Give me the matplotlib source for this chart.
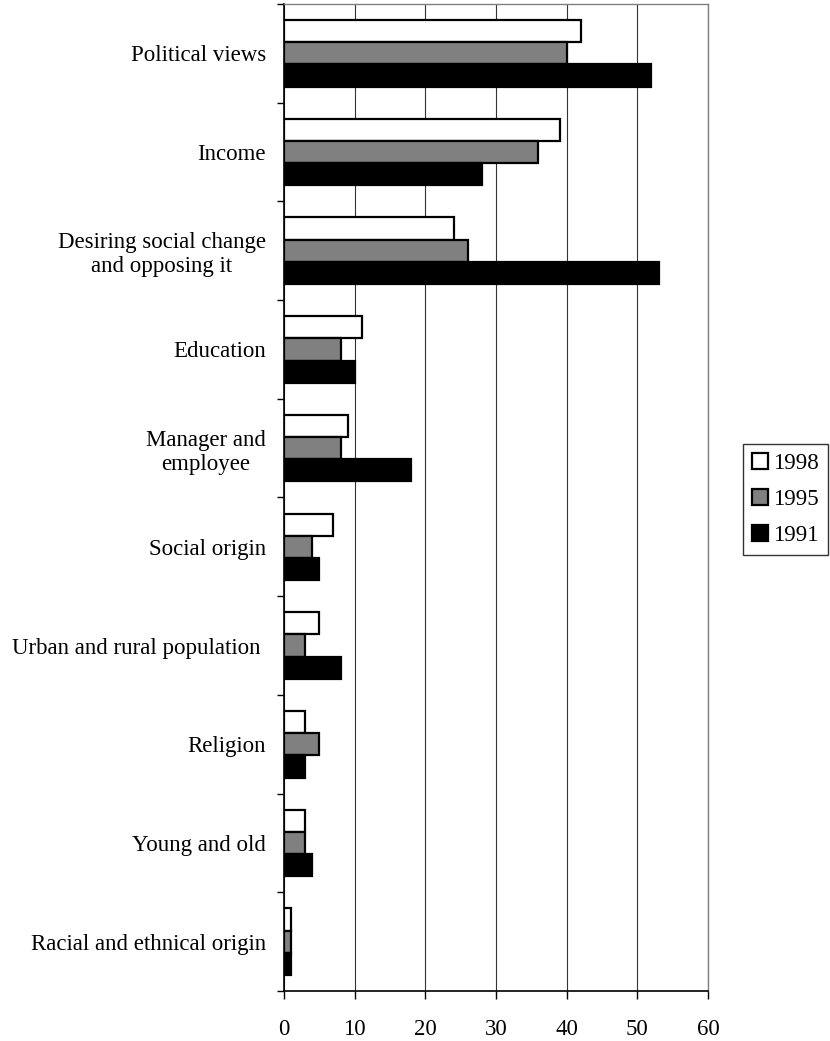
import matplotlib
matplotlib.use("Agg")
import matplotlib.pyplot as plt
import numpy as np

categories = ["Political views", "Income", "Desiring social change\nand opposing it",
              "Education", "Manager and\nemployee", "Social origin",
              "Urban and rural population ", "Religion", "Young and old",
              "Racial and ethnical origin"]
v1998 = [42, 39, 24, 11, 9, 7, 5, 3, 3, 1]
v1995 = [40, 36, 26, 8, 8, 4, 3, 5, 3, 1]
v1991 = [52, 28, 53, 10, 18, 5, 8, 3, 4, 1]
series_labels = ["1998", "1995", "1991"]
series_colors = ["white", "#808080", "black"]

plt.rcParams['font.family'] = ['Liberation Serif', 'DejaVu Serif']
FS = 16.5

fig = plt.figure(figsize=(8.30, 10.41), dpi=100)
ax = fig.add_axes([284/830, 1-991/1041, (708-284)/830, (991-4)/1041])

n = len(categories)
y = np.arange(n)
h = 0.225
for i, (vals, lab, col) in enumerate(zip([v1998, v1995, v1991], series_labels, series_colors)):
    ax.barh(y + (i - 1) * h, vals, height=h, color=col, edgecolor='black',
            linewidth=1.6, label=lab, zorder=3)

ax.set_xlim(0, 60)
ax.set_ylim(n - 0.5, -0.5)
ax.set_xticks(np.arange(0, 61, 10))
ax.set_yticks(y)
ax.set_yticklabels(categories, multialignment='center')
ax.set_yticks(np.arange(-0.5, n, 1), minor=True)
ax.tick_params(axis='y', which='major', length=0, pad=13, labelsize=FS)
ax.tick_params(axis='y', which='minor', length=5, width=1, direction='out')
ax.tick_params(axis='x', which='major', length=6, width=1, direction='out', pad=14, labelsize=FS)
ax.xaxis.grid(True, color='#333333', linewidth=0.8, zorder=0)
ax.set_axisbelow(True)
for s in ['top', 'right']:
    ax.spines[s].set_color('#808080')
    ax.spines[s].set_linewidth(1)
for s in ['left', 'bottom']:
    ax.spines[s].set_color('black')
    ax.spines[s].set_linewidth(1.2)

leg = fig.legend(loc='upper left', bbox_to_anchor=(743/830, 1-444/1041), fontsize=FS,
                 frameon=True, fancybox=False, edgecolor='black', handlelength=0.7,
                 handleheight=0.7, handletextpad=0.2, labelspacing=0.65, borderpad=0.4,
                 borderaxespad=0)
leg.get_frame().set_linewidth(1)

fig.savefig("out.png", dpi=100)
